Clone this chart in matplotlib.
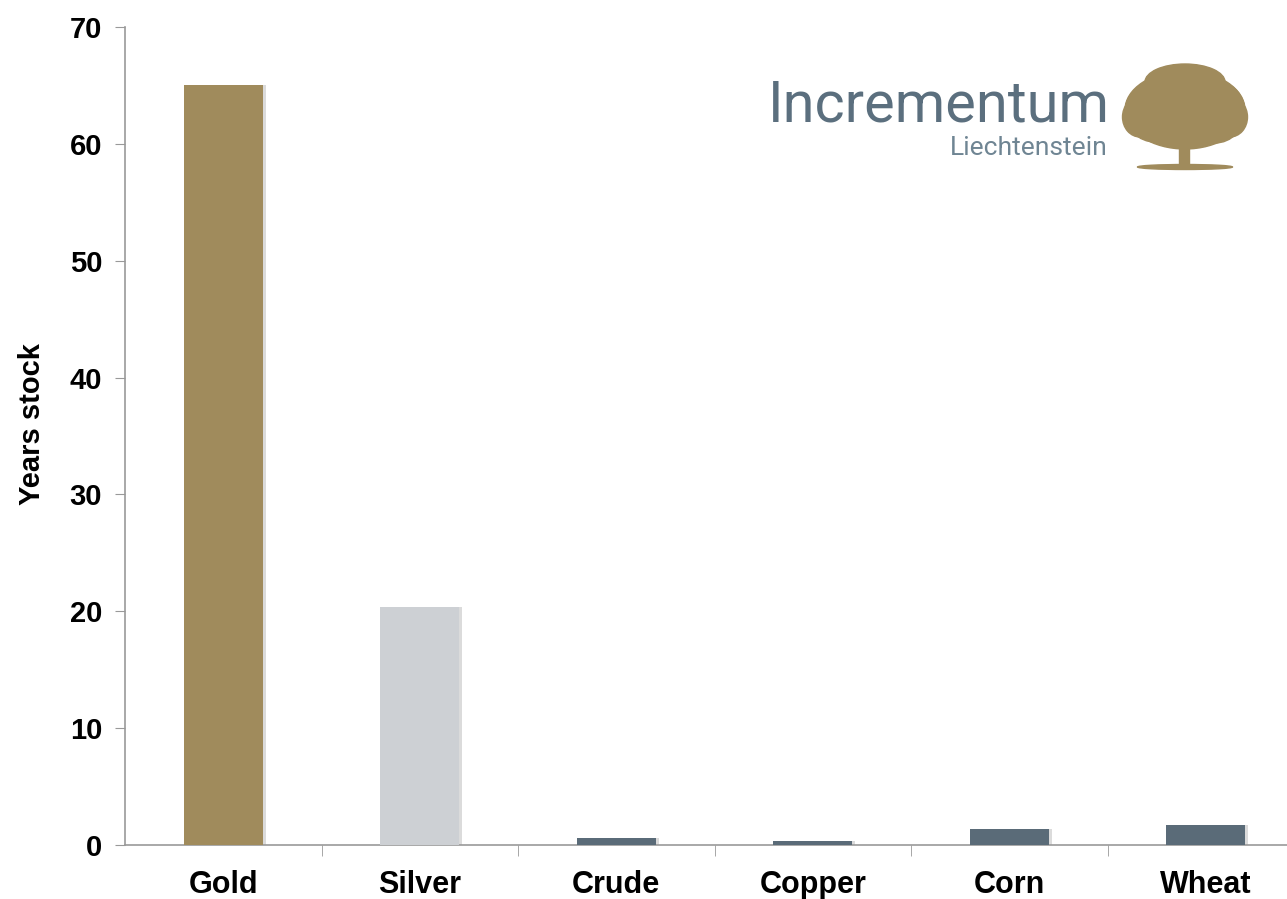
import matplotlib
matplotlib.use("Agg")
import matplotlib.pyplot as plt
from matplotlib.patches import Ellipse, Rectangle
import matplotlib.transforms as mtransforms

categories = ["Gold", "Silver", "Crude", "Copper", "Corn", "Wheat"]
years_stock = [65.0, 20.4, 0.6, 0.35, 1.35, 1.7]
bar_colors = ["#A08B5C", "#CDD0D4", "#5A6B78", "#5A6B78", "#5A6B78", "#5A6B78"]
yticks = [0, 10, 20, 30, 40, 50, 60, 70]

plt.rcParams['font.family'] = ['Liberation Sans', 'DejaVu Sans']

fig = plt.figure(figsize=(12.87, 8.99), dpi=100)
ax = fig.add_axes([125/1287, 1-845/899, (1304-125)/1287, (845-27)/899])

x = list(range(len(categories)))
shadow = mtransforms.offset_copy(ax.transData, fig=fig, x=3, y=0, units='dots')
ax.bar(x, years_stock, width=0.4, color="#B8B8B8", alpha=0.5, transform=shadow, zorder=2)
ax.bar(x, years_stock, width=0.4, color=bar_colors, zorder=3)

ax.set_xlim(-0.5, len(categories) - 0.5)
ax.set_ylim(0, 70)
ax.set_yticks(yticks)
ax.set_yticklabels([str(t) for t in yticks], fontsize=21, fontweight='bold')
ax.set_xticks(x)
ax.set_xticklabels(categories, fontsize=22, fontweight='bold')
ax.tick_params(axis='x', length=0, pad=18)
ax.set_xticks([i + 0.5 for i in x[:-1]], minor=True)
ax.tick_params(axis='x', which='minor', length=8, color='#999999', direction='out')
ax.tick_params(axis='y', length=7.5, color='#999999', direction='out', pad=9)

for s in ['top', 'right']:
    ax.spines[s].set_visible(False)
for s in ['left', 'bottom']:
    ax.spines[s].set_color('#999999')
    ax.spines[s].set_linewidth(1.2)

ax.set_ylabel("Years stock", fontsize=21, fontweight='bold', labelpad=14)
ax.yaxis.set_label_coords(-0.067, 0.515)

# Logo
fig.text(1110/1287, 1-106/899, "Incrementum", fontsize=41.5, color="#5B6F7E",
         family=['Roboto', 'DejaVu Sans'], ha='right', va='center')
fig.text(1108/1287, 1-148/899, "Liechtenstein", fontsize=19, color="#6F8593",
         family=['Roboto', 'DejaVu Sans'], ha='right', va='center')

lax = fig.add_axes([1115/1287, 1-172/899, 140/1287, 110/899])
lax.set_xlim(0, 140)
lax.set_ylim(0, 110)
lax.axis('off')
gold = "#A08B5C"
lax.add_patch(Ellipse((70, 5), 95, 5, color=gold))
lax.add_patch(Rectangle((64, 5), 10, 30, color=gold))
for (cx, cy, w, h) in [(70, 62, 120, 78), (40, 60, 60, 60), (100, 60, 60, 62),
                       (70, 90, 80, 36), (25, 55, 35, 40), (115, 55, 35, 40)]:
    lax.add_patch(Ellipse((cx, cy), w, h, color=gold))

fig.savefig("out.png", dpi=100)
